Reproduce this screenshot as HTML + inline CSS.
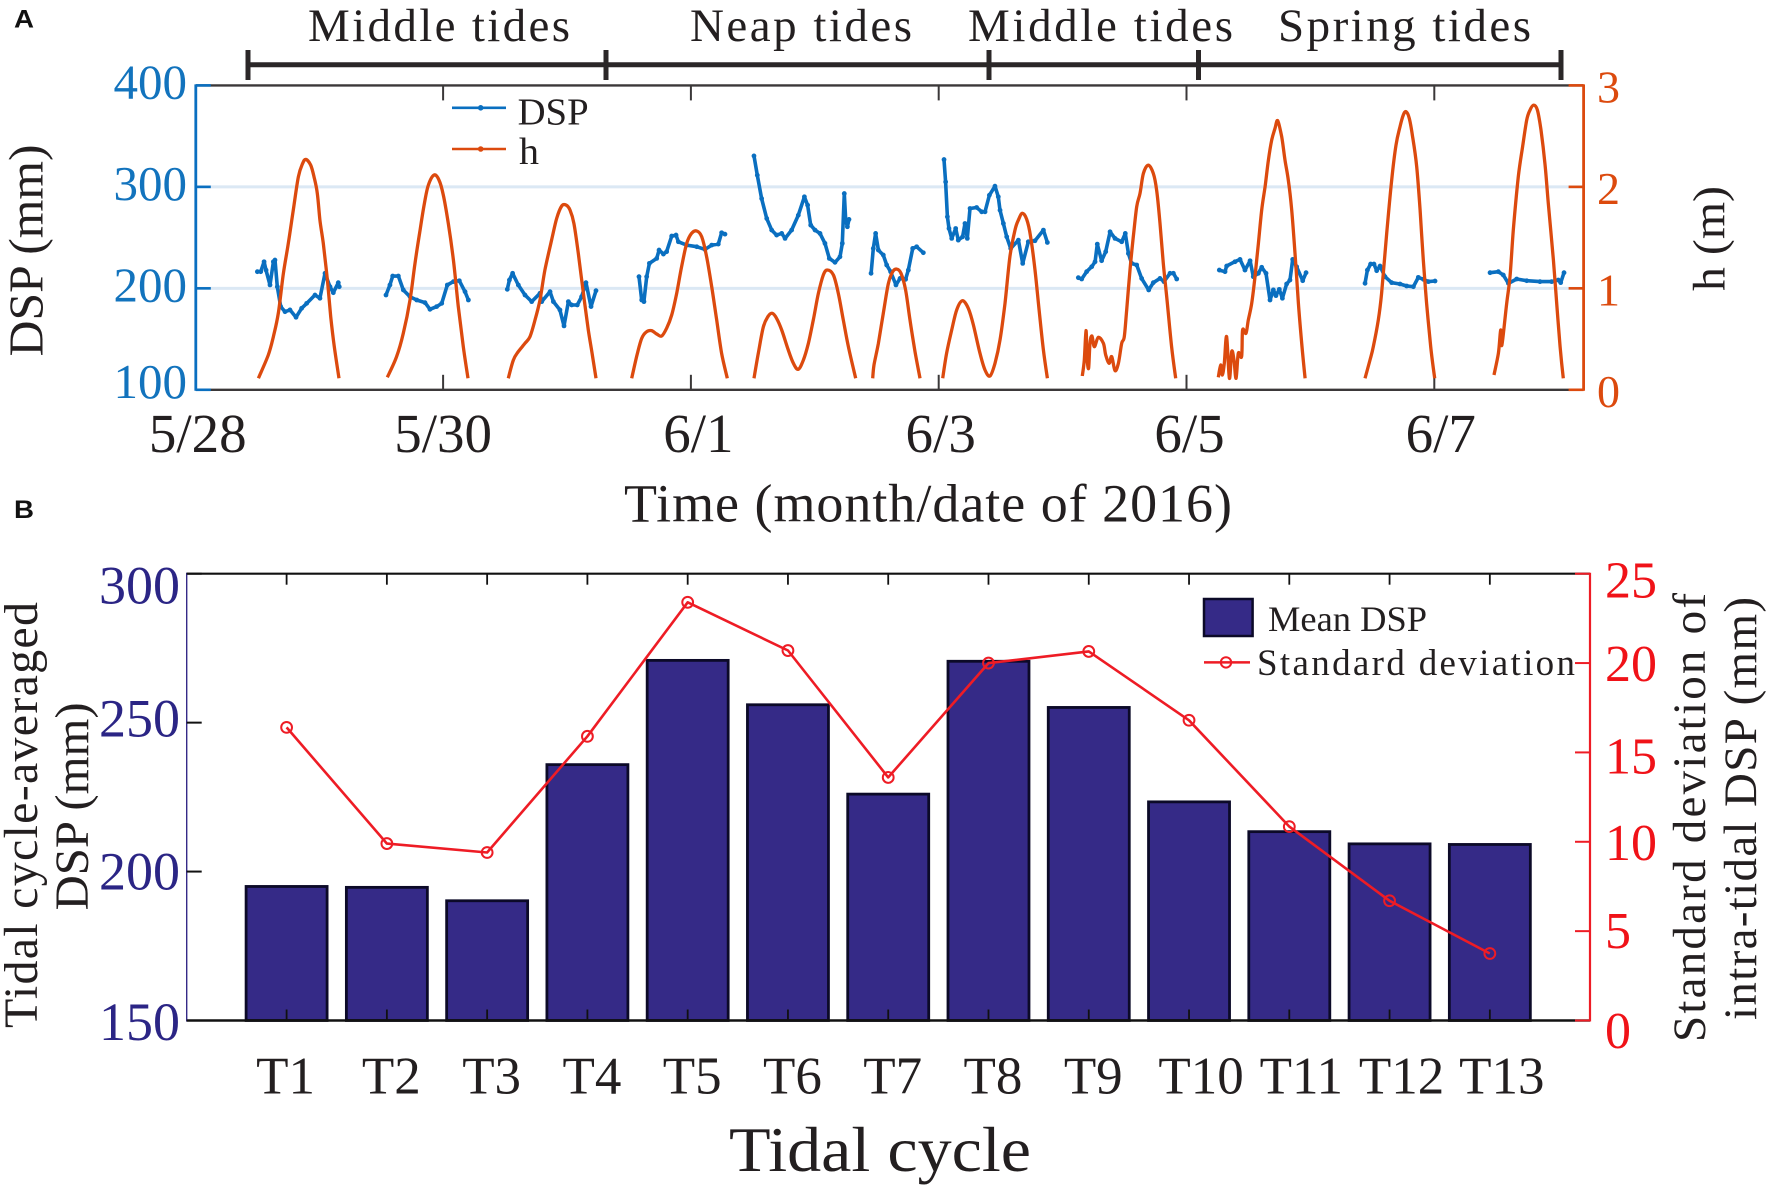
<!DOCTYPE html>
<html lang="en">
<head>
<meta charset="utf-8">
<title>DSP and tidal cycle chart</title>
<style>
html,body{margin:0;padding:0;background:#fff;}
svg{display:block;}
text{font-family:"Liberation Serif",serif;}
</style>
</head>
<body>
<svg id="chart" xmlns="http://www.w3.org/2000/svg" width="1772" height="1189" viewBox="0 0 1772 1189">
  <rect x="0" y="0" width="1772" height="1189" fill="#fff"/>

  <text x="14" y="27.5" style="font-family:'Liberation Sans',sans-serif;font-weight:bold;font-size:25px" fill="#111" textLength="20" lengthAdjust="spacingAndGlyphs">A</text>
  <text x="14" y="518" style="font-family:'Liberation Sans',sans-serif;font-weight:bold;font-size:25px" fill="#111" textLength="20" lengthAdjust="spacingAndGlyphs">B</text>

  <g fill="#231f20" font-size="47">
    <text x="308" y="41" textLength="262" lengthAdjust="spacing">Middle tides</text>
    <text x="690" y="41" textLength="222" lengthAdjust="spacing">Neap tides</text>
    <text x="968" y="41" textLength="265" lengthAdjust="spacing">Middle tides</text>
    <text x="1278" y="41" textLength="253" lengthAdjust="spacing">Spring tides</text>
  </g>
  <g stroke="#2b2728" fill="none">
    <line x1="248" y1="64.7" x2="1561" y2="64.7" stroke-width="5"/>
    <line x1="248" y1="50" x2="248" y2="80" stroke-width="5"/>
    <line x1="606" y1="50" x2="606" y2="80" stroke-width="5"/>
    <line x1="989" y1="50" x2="989" y2="80" stroke-width="5"/>
    <line x1="1198.5" y1="50" x2="1198.5" y2="80" stroke-width="5"/>
    <line x1="1561" y1="50" x2="1561" y2="80" stroke-width="5"/>
  </g>

  <g id="panelA"></g>
  <g id="panelB"></g>

  <text transform="translate(42.6,356.4) rotate(-90)" font-size="49" fill="#231f20" textLength="212" lengthAdjust="spacingAndGlyphs">DSP (mm)</text>
  <text transform="translate(1724.7,291) rotate(-90)" font-size="45" fill="#231f20" textLength="105" lengthAdjust="spacingAndGlyphs">h (m)</text>
  <text x="624" y="521.5" font-size="54" fill="#231f20" textLength="608" lengthAdjust="spacing">Time (month/date of 2016)</text>

  <g>
    <line x1="452" y1="107.8" x2="506" y2="107.8" stroke="#0a6fc0" stroke-width="2.6"/>
    <circle cx="480.7" cy="107.8" r="2.8" fill="#0a6fc0"/>
    <text x="517.6" y="124.7" font-size="38" fill="#231f20" textLength="71" lengthAdjust="spacingAndGlyphs">DSP</text>
    <line x1="452" y1="149" x2="506" y2="149" stroke="#dc4a0e" stroke-width="2.6"/>
    <circle cx="480.7" cy="149" r="2.8" fill="#dc4a0e"/>
    <text x="519" y="164" font-size="38" fill="#231f20" textLength="20" lengthAdjust="spacingAndGlyphs">h</text>
  </g>

  <text transform="translate(37,1028) rotate(-90)" font-size="48" fill="#231f20" textLength="426" lengthAdjust="spacing">Tidal cycle-averaged</text>
  <text transform="translate(88,910.4) rotate(-90)" font-size="48" fill="#231f20" textLength="208" lengthAdjust="spacingAndGlyphs">DSP (mm)</text>
  <text transform="translate(1705,1042) rotate(-90)" font-size="47" fill="#231f20" textLength="449" lengthAdjust="spacing">Standard deviation of</text>
  <text transform="translate(1756,1020) rotate(-90)" font-size="47" fill="#231f20" textLength="423" lengthAdjust="spacing">intra-tidal DSP (mm)</text>
  <text x="729" y="1171" font-size="64" fill="#231f20" textLength="302" lengthAdjust="spacingAndGlyphs">Tidal cycle</text>

  <g>
    <rect x="1204" y="599" width="48.6" height="37" fill="#352a87" stroke="#0c0a28" stroke-width="2.5"/>
    <text x="1268" y="631" font-size="36" fill="#231f20" textLength="159" lengthAdjust="spacingAndGlyphs">Mean DSP</text>
    <line x1="1204" y1="662.4" x2="1250" y2="662.4" stroke="#ee1c25" stroke-width="2.5"/>
    <circle cx="1226" cy="662.4" r="5.2" fill="none" stroke="#ee1c25" stroke-width="2"/>
    <text x="1257" y="675" font-size="37" fill="#231f20" textLength="318" lengthAdjust="spacing">Standard deviation</text>
  </g>
</svg>

<script>
/* ---------- Panel A data: days since 5/28, DSP in mm, h in m ---------- */
const dateTickDays = [0, 2, 4, 6, 8, 10];
const dateTickLabels = ["5/28", "5/30", "6/1", "6/3", "6/5", "6/7"];
const dspTicks = [100, 200, 300, 400];
const hTicks = [0, 1, 2, 3];
const gridValues = [200, 300];

const hDays = [
 [.509,.589,.630,.670,.711,.751,.791,.832,.867,.893,.931,.958,.985,1.006,1.033,1.066,1.093,1.122,1.160],
 [1.550,1.625,1.679,1.733,1.773,1.814,1.849,1.881,1.927,1.967,2.002,2.042,2.083,2.123,2.163,2.201],
 [2.526,2.567,2.607,2.661,2.701,2.742,2.782,2.822,2.876,2.917,2.957,2.992,3.024,3.056,3.091,3.132,3.172,3.207,3.234],
 [3.522,3.562,3.603,3.643,3.683,3.724,3.764,3.804,3.845,3.885,3.925,3.966,4.006,4.047,4.087,4.127,4.168,4.208,4.248,4.294],
 [4.509,4.544,4.585,4.625,4.657,4.692,4.733,4.786,4.827,4.867,4.908,4.948,4.988,5.029,5.069,5.101,5.150,5.190,5.230,5.271,5.330],
 [5.467,5.478,5.513,5.553,5.594,5.629,5.661,5.696,5.733,5.768,5.809,5.849],
 [6.032,6.064,6.105,6.145,6.191,6.239,6.280,6.333,6.374,6.414,6.454,6.495,6.535,6.575,6.616,6.643,6.675,6.710,6.742,6.777,6.810,6.845,6.877],
 [7.159,7.175,7.189,7.197,7.210,7.221,7.237,7.256,7.288,7.329,7.348,7.375,7.396,7.423,7.450,7.477,7.498,7.517,7.544,7.571,7.598,7.625,7.652,7.692,7.732,7.759,7.786,7.813,7.840,7.880,7.913],
 [8.257,8.276,8.289,8.305,8.324,8.346,8.365,8.383,8.400,8.418,8.445,8.453,8.480,8.499,8.526,8.553,8.580,8.607,8.634,8.661,8.688,8.714,8.736,8.768,8.795,8.822,8.849,8.876,8.903,8.930,8.957],
 [9.441,9.481,9.508,9.548,9.575,9.616,9.656,9.691,9.723,9.750,9.772,9.798,9.825,9.858,9.885,9.911,9.938,9.971,10.003],
 [10.482,10.517,10.536,10.546,10.584,10.611,10.638,10.678,10.713,10.746,10.772,10.802,10.832,10.861,10.893,10.920,10.961,10.988,11.015,11.041]
];
const hValues = [
 [.113,.343,.524,.754,1.148,1.443,1.772,2.100,2.232,2.271,2.215,2.100,1.936,1.673,1.443,1.082,.721,.425,.113],
 [.123,.327,.557,.885,1.246,1.575,1.837,2.018,2.117,2.067,1.920,1.640,1.279,.819,.425,.113],
 [.113,.294,.376,.458,.524,.688,.885,1.181,1.476,1.690,1.811,1.821,1.772,1.640,1.345,.951,.589,.327,.113],
 [.113,.327,.507,.573,.583,.550,.530,.606,.737,.951,1.213,1.443,1.542,1.565,1.509,1.312,1.016,.688,.360,.113],
 [.113,.360,.622,.727,.754,.704,.589,.392,.261,.202,.294,.458,.688,.951,1.131,1.181,1.131,.951,.688,.425,.113],
 [.113,.245,.458,.754,1.049,1.164,1.190,1.148,.984,.688,.376,.113],
 [.113,.360,.589,.787,.878,.803,.639,.360,.195,.136,.261,.491,.852,1.312,1.575,1.673,1.739,1.680,1.509,1.181,.787,.392,.113],
 [.136,.294,.583,.327,.212,.458,.530,.425,.517,.458,.343,.261,.327,.189,.261,.458,.524,.787,1.181,1.509,1.805,1.936,2.133,2.215,2.133,1.969,1.640,1.246,.918,.425,.113],
 [.123,.245,.146,.261,.524,.113,.376,.294,.113,.360,.327,.589,.557,.688,.852,1.115,1.443,1.772,2.002,2.264,2.461,2.576,2.652,2.494,2.264,2.067,1.772,1.345,.852,.458,.113],
 [.113,.294,.425,.688,.951,1.542,2.067,2.412,2.593,2.708,2.741,2.675,2.494,2.199,1.772,1.279,.852,.425,.113],
 [.146,.360,.589,.442,.852,1.115,1.575,2.100,2.396,2.658,2.757,2.806,2.757,2.560,2.232,1.837,1.279,.852,.425,.113]
];
const dspDays = [
 [.501,.528,.555,.571,.603,.630,.643,.662,.689,.724,.764,.813,.858,.899,.966,1.006,1.047,1.087,1.114,1.154,1.162],
 [1.539,1.571,1.593,1.639,1.679,1.733,1.787,1.854,1.894,1.948,1.989,2.034,2.083,2.131,2.177,2.204],
 [2.518,2.535,2.561,2.607,2.661,2.715,2.782,2.796,2.863,2.890,2.943,2.976,3.011,3.038,3.083,3.118,3.153,3.194,3.234],
 [3.581,3.603,3.621,3.643,3.665,3.724,3.743,3.778,3.804,3.845,3.880,3.899,3.966,4.047,4.114,4.168,4.221,4.248,4.275],
 [4.509,4.536,4.571,4.612,4.652,4.692,4.733,4.760,4.813,4.867,4.916,4.942,4.967,5.002,5.042,5.082,5.117,5.163,5.203,5.222,5.238,5.249,5.263,5.276],
 [5.454,5.472,5.491,5.513,5.553,5.580,5.612,5.655,5.688,5.733,5.755,5.790,5.822,5.876],
 [6.043,6.056,6.070,6.083,6.105,6.137,6.158,6.193,6.212,6.231,6.253,6.306,6.347,6.374,6.409,6.454,6.481,6.495,6.522,6.549,6.581,6.643,6.678,6.723,6.777,6.845,6.877],
 [7.127,7.154,7.194,7.235,7.262,7.280,7.315,7.348,7.383,7.423,7.477,7.506,7.531,7.557,7.598,7.638,7.695,7.732,7.786,7.818,7.867,7.894,7.921],
 [8.265,8.311,8.324,8.391,8.432,8.472,8.513,8.539,8.580,8.607,8.642,8.674,8.701,8.722,8.749,8.774,8.808,8.835,8.857,8.889,8.938,8.965],
 [9.441,9.460,9.486,9.513,9.535,9.562,9.602,9.656,9.723,9.777,9.831,9.871,9.912,9.952,10.006],
 [10.450,10.517,10.557,10.598,10.665,10.746,10.853,10.947,11.001,11.020,11.047]
];
const dspValues = [
 [216.4,216.4,226.2,218,203.3,226.2,227.9,201.6,182,177,178.7,171.5,180.3,185.2,193.4,190.2,214.8,201.6,195.7,205.6,201.6],
 [193.4,203.3,212.1,212.1,198.4,191.8,188.5,185.9,179.3,182,185.2,203.3,206.6,207.5,196.7,188.5],
 [199,208.2,214.8,203.3,193.4,186.9,195.1,186.9,196.7,186.9,178.7,163,186.9,183.6,183.6,191.8,205.6,182,197.7],
 [211.5,188.5,186.9,211.5,224.6,229.5,237.7,233.8,236.1,251.5,252.5,245.9,242.6,241,238.4,242.6,243.6,254.8,253.4],
 [330.5,311.5,288.5,268.9,257.4,252.5,254.1,249.2,257.4,272.1,290.2,282,262.3,257.4,254.1,244.3,229.5,225.6,231.1,244.3,293.4,267.2,260.7,267.9],
 [214.8,239.3,254.1,237.7,232.8,223,216.4,203.3,209.8,208.9,218,239.3,241,235.1],
 [326.9,304.9,270.5,259,249.2,259,247.5,250.8,263.9,249.2,278.7,279.7,275.4,275.4,291.8,300.7,290.2,277,263.9,250.8,239.3,247.5,224.6,245.9,246.9,257.4,245.2],
 [210.5,209.2,216.4,221.3,226.2,243.6,227.2,236.1,255.7,249.2,245.9,254.1,234.4,224.6,223,209.8,198.4,205.6,209.8,206.6,214.8,214.8,209.2],
 [218,216.4,222,226.2,228.5,218,227.2,211.5,214.8,220.7,214.8,188.5,198.4,192.8,199,190.2,204.3,208.2,228.5,221.3,207.5,215.4],
 [204.9,218,223.9,223.9,217.4,222,211.5,205.6,204.3,202.3,201.6,210.8,208.9,206.6,207.2],
 [215.4,216.4,213.1,204.9,209.2,207.5,206.6,206.6,208.2,205.6,215.4]
];

/* ---------- Panel B data ---------- */
const cycleLabels = ["T1","T2","T3","T4","T5","T6","T7","T8","T9","T10","T11","T12","T13"];
const meanDsp = [195,194.7,190.2,235.9,270.9,256,226,270.6,255.1,223.4,213.4,209.3,209.1];
const stdDev = [16.4,9.9,9.4,15.9,23.4,20.7,13.6,20,20.65,16.8,10.85,6.7,3.75];
const meanTicks = [150,200,250,300];
const sdTicks = [0,5,10,15,20,25];

/* ---------- helpers ---------- */
const NS = "http://www.w3.org/2000/svg";
function mk(tag, parent, attrs, txt) {
  const el = document.createElementNS(NS, tag);
  for (const k in attrs) el.setAttribute(k, attrs[k]);
  if (txt !== undefined) el.textContent = txt;
  parent.appendChild(el);
  return el;
}
/* smooth path through the points (Catmull-Rom to Bezier) */
function smoothPath(p) {
  let s = "M" + p[0][0].toFixed(1) + " " + p[0][1].toFixed(1);
  for (let i = 0; i < p.length - 1; i++) {
    const a = p[Math.max(i - 1, 0)], b = p[i], c = p[i + 1], d = p[Math.min(i + 2, p.length - 1)];
    const c1x = b[0] + (c[0] - a[0]) / 6, c1y = b[1] + (c[1] - a[1]) / 6;
    const c2x = c[0] - (d[0] - b[0]) / 6, c2y = c[1] - (d[1] - b[1]) / 6;
    s += "C" + c1x.toFixed(1) + " " + c1y.toFixed(1) + " " + c2x.toFixed(1) + " " + c2y.toFixed(1) + " " + c[0].toFixed(1) + " " + c[1].toFixed(1);
  }
  return s;
}

/* ---------- Panel A axes ---------- */
const A = {l:195.8, r:1583.6, t:85.4, b:389.8};
const ax = d => 195.3 + 123.9 * d;
const ayD = v => A.b - (v - 100) * (A.b - A.t) / 300;
const ayH = v => A.b - v * (A.b - A.t) / 3;
const gA = document.getElementById("panelA");
const blue = "#0a6fc0", orange = "#dc4a0e", dark = "#3b3839";

gridValues.forEach(v => {
  const el = mk("line", gA, {x1:A.l, x2:A.r, y1:ayD(v), y2:ayD(v), stroke:"#dbe8f4", "stroke-width":3});
  
  
});

let frameEl = mk("line", gA, {x1:A.l, x2:A.r, y1:A.t, y2:A.t, stroke:dark, "stroke-width":2.4});


frameEl = mk("line", gA, {x1:A.l, x2:A.r, y1:A.b, y2:A.b, stroke:dark, "stroke-width":2.4});


frameEl = mk("line", gA, {x1:A.l, x2:A.l, y1:A.t-1, y2:A.b+1, stroke:blue, "stroke-width":2.8});


frameEl = mk("line", gA, {x1:A.r, x2:A.r, y1:A.t-1, y2:A.b+1, stroke:orange, "stroke-width":2.8});



dateTickDays.forEach((d, i) => {
  if (i > 0) {
    const t1 = mk("line", gA, {x1:ax(d), x2:ax(d), y1:A.t, y2:A.t+15, stroke:dark, "stroke-width":2});
    
    
    const t2 = mk("line", gA, {x1:ax(d), x2:ax(d), y1:A.b, y2:A.b-15, stroke:dark, "stroke-width":2});
    
    
  }
  const nudge = [2.5, 0, 7.5, 2, 3, 6.5][i];
  const lab = mk("text", gA, {x:ax(d)+nudge, y:452, "text-anchor":"middle", "font-size":55, fill:"#231f20"}, dateTickLabels[i]);
  
  
});

dspTicks.forEach(v => {
  const t = mk("line", gA, {x1:A.l, x2:A.l+15, y1:ayD(v), y2:ayD(v), stroke:blue, "stroke-width":2.6});
  
  
  const lab = mk("text", gA, {x:187, y:ayD(v)+(v===100?8:13), "text-anchor":"end", "font-size":49, fill:"#1273bd"}, v);
  
  
});
hTicks.forEach(v => {
  const t = mk("line", gA, {x1:A.r-15, x2:A.r, y1:ayH(v), y2:ayH(v), stroke:orange, "stroke-width":2.6});
  
  
  const lab = mk("text", gA, {x:1597, y:ayH(v)+17, "font-size":46, fill:orange}, v);
  
  
});

dspDays.forEach((days, c) => {
  const pts = days.map((d, i) => ax(d).toFixed(1) + "," + ayD(dspValues[c][i]).toFixed(1)).join(" ");
  const line = mk("polyline", gA, {points:pts, fill:"none", stroke:blue, "stroke-width":3.6, "stroke-linejoin":"round"});
  
  
  days.forEach((d, i) => {
    const dot = mk("circle", gA, {cx:ax(d), cy:ayD(dspValues[c][i]), r:2.4, fill:blue});
    
    
  });
});
hDays.forEach((days, c) => {
  const pts = days.map((d, i) => [ax(d), ayH(hValues[c][i])]);
  const line = mk("path", gA, {d:smoothPath(pts), fill:"none", stroke:orange, "stroke-width":3.3, "stroke-linejoin":"round"});
  
  
});

/* ---------- Panel B axes ---------- */
const B = {l:186.7, r:1590, t:573.7, b:1020.5};
const bx = i => 286.6 + 100.27 * i;
const byM = v => B.b - (v - 150) * (B.b - B.t) / 150;
const byS = v => B.b - v * (B.b - B.t) / 25;
const gB = document.getElementById("panelB");
const navy = "#352a87", red = "#ee1c25";

meanDsp.forEach((v, i) => {
  const bar = mk("rect", gB, {x:bx(i)-40.5, y:byM(v), width:81, height:B.b-byM(v), fill:navy, stroke:"#0c0a28", "stroke-width":2.8});
  
  
});

frameEl = mk("line", gB, {x1:B.l, x2:B.r, y1:B.t, y2:B.t, stroke:"#111", "stroke-width":2.2});


frameEl = mk("line", gB, {x1:B.l, x2:B.r, y1:B.b, y2:B.b, stroke:"#111", "stroke-width":2.4});


frameEl = mk("line", gB, {x1:B.l, x2:B.l, y1:B.t-1, y2:B.b+1, stroke:navy, "stroke-width":1.4});


frameEl = mk("line", gB, {x1:B.r, x2:B.r, y1:B.t-1, y2:B.b+1, stroke:red, "stroke-width":2.2});



cycleLabels.forEach((lab, i) => {
  const t1 = mk("line", gB, {x1:bx(i), x2:bx(i), y1:B.t, y2:B.t+11, stroke:"#111", "stroke-width":1.8});
  
  
  const t2 = mk("line", gB, {x1:bx(i), x2:bx(i), y1:B.b, y2:B.b-11, stroke:"#111", "stroke-width":1.8});
  
  
  const shift = i === 0 ? -1 : (i < 9 ? 4.5 : 12);
  const text = mk("text", gB, {x:bx(i)+shift, y:1093.5, "text-anchor":"middle", "font-size":53, fill:"#231f20"}, lab);
  
  
});

meanTicks.forEach((v, i) => {
  const t = mk("line", gB, {x1:B.l, x2:B.l+15, y1:byM(v), y2:byM(v), stroke:"#111", "stroke-width":2});
  
  
  const drop = [19.5, 18, 14, 30][i];
  const lab = mk("text", gB, {x:180, y:byM(v)+drop, "text-anchor":"end", "font-size":54, fill:"#2b2585"}, v);
  
  
});
sdTicks.forEach((v, i) => {
  const t = mk("line", gB, {x1:B.r-15, x2:B.r, y1:byS(v), y2:byS(v), stroke:red, "stroke-width":2});
  
  
  const drop = [27.5, 17, 18, 21, 18, 24][i];
  const lab = mk("text", gB, {x:1605, y:byS(v)+drop, "font-size":52, fill:"#f01218"}, v);
  
  
});

const sdLine = mk("polyline", gB, {points:stdDev.map((v, i) => bx(i).toFixed(1) + "," + byS(v).toFixed(1)).join(" "), fill:"none", stroke:red, "stroke-width":2.6, "stroke-linejoin":"round"});


stdDev.forEach((v, i) => {
  const c = mk("circle", gB, {cx:bx(i), cy:byS(v), r:5.4, fill:"none", stroke:red, "stroke-width":2});
  
  
});
</script>
</body>
</html>
